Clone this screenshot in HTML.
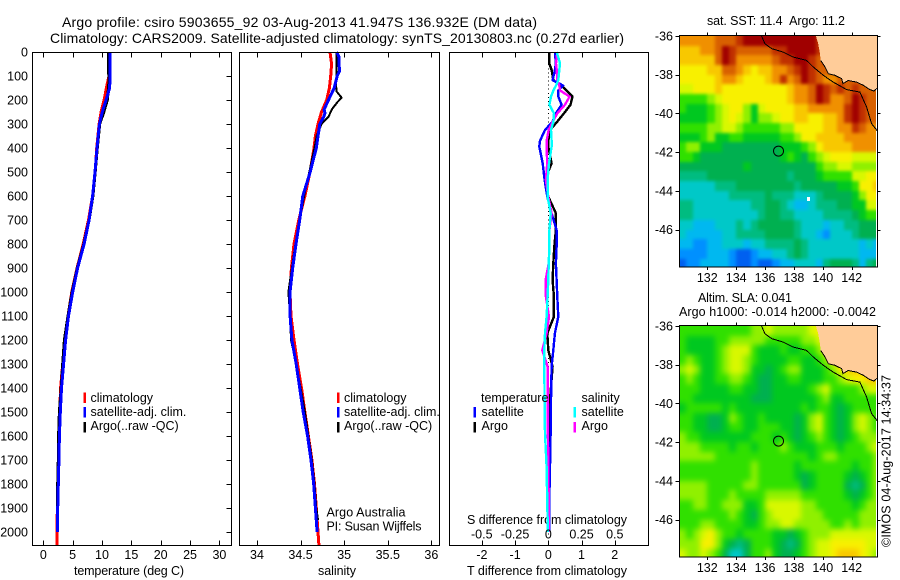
<!DOCTYPE html>
<html lang="en">
<head>
<meta charset="utf-8">
<title>Argo profile</title>
<style>
html,body{margin:0;padding:0;background:#fff;}
svg{display:block;}
text{font-family:"Liberation Sans",sans-serif;font-size:12.5px;fill:#000;}
</style>
</head>
<body>
<svg id="chart" width="900" height="580" viewBox="0 0 900 580" xmlns="http://www.w3.org/2000/svg">
  <defs>
    <filter id="blur-sst" x="-5%" y="-5%" width="110%" height="110%" color-interpolation-filters="sRGB"><feGaussianBlur stdDeviation="1.6"/></filter>
    <filter id="blur-sla" x="-5%" y="-5%" width="110%" height="110%" color-interpolation-filters="sRGB"><feGaussianBlur stdDeviation="3"/></filter>
  </defs>
  <rect width="900" height="580" fill="#fff"/>
  <text x="62" y="27" style="font-size:14px" textLength="475">Argo profile: csiro 5903655_92 03-Aug-2013 41.947S 136.932E (DM data)</text>
  <text x="50" y="43" style="font-size:14px" textLength="574">Climatology: CARS2009. Satellite-adjusted climatology: synTS_20130803.nc (0.27d earlier)</text>
  <text x="74" y="575" textLength="110">temperature (deg C)</text>
  <text x="318" y="575" textLength="38">salinity</text>
  <text x="467" y="575" textLength="160">T difference from climatology</text>
  <text x="467" y="524" textLength="160">S difference from climatology</text>
  <text x="326.5" y="516.5" textLength="79">Argo Australia</text>
  <text x="326.5" y="530.5" textLength="95">PI: Susan Wijffels</text>
  <text x="707" y="25" textLength="138">sat. SST: 11.4&#160;&#160;Argo: 11.2</text>
  <text x="698" y="302" textLength="94">Altim. SLA: 0.041</text>
  <text x="679" y="316" textLength="197">Argo h1000: -0.014 h2000: -0.0042</text>
  <text transform="translate(890.5,547) rotate(-90)" textLength="172">©IMOS 04-Aug-2017 14:34:37</text>
  <g id="layer"></g>
</svg>
<script>
// ---------- profile data ----------
const depthTicks = [0,100,200,300,400,500,600,700,800,900,1000,1100,1200,1300,1400,1500,1600,1700,1800,1900,2000];
const tempTicks = [0,5,10,15,20,25,30];
const salTicks = [34,34.5,35,35.5,36];
const salTickLabels = ["34","34.5","35","35.5","36"];
const tdiffTicks = [-2,-1,0,1,2];
const sdiffTicks = [-0.5,-0.25,0,0.25,0.5];
const sdiffTickLabels = ["-0.5","-0.25","0","0.25","0.5"];

const tempDepths = [0,50,100,120,150,200,250,300,400,500,600,700,800,900,1000,1100,1200,1300,1400,1500,1600,1700,1800,1900,2000];
const tempClim = [11.25,11.25,11.2,11.0,10.75,10.35,9.85,9.5,9.1,8.85,8.4,7.7,6.8,5.75,4.85,4.2,3.7,3.3,2.95,2.8,2.7,2.6,2.5,2.4,2.3];
const tempClimTailDepth = [1980,2054];
const tempClimTail = [2.3,2.3];
const tempArgo = [11.1,11.1,11.15,11.2,11.1,10.9,10.3,9.6,9.2,8.85,8.45,7.8,6.9,5.8,4.9,4.2,3.6,3.3,3.05,2.75,2.6,2.55,2.45,2.4,2.4];
const tempSat = [11.35,11.35,11.4,11.35,11.3,10.7,10.05,9.55,9.15,8.8,8.4,7.8,6.95,5.85,5.0,4.3,3.8,3.45,3.1,2.9,2.75,2.65,2.55,2.45,2.45];

const salClimDepths = [0,50,100,150,200,250,300,350,400,500,600,700,800,900,1000,1100,1200,1300,1400,1500,1600,1700,1800,1900,2000,2054];
const salClim = [34.837,34.856,34.845,34.83,34.8,34.74,34.70,34.67,34.654,34.608,34.55,34.48,34.424,34.395,34.378,34.39,34.424,34.465,34.51,34.55,34.59,34.63,34.66,34.68,34.70,34.71];
const salArgoDepths = [0,100,140,165,190,210,240,270,300,350,400,500,600,700,800,900,1000,1100,1200,1300,1400,1500,1600,1700,1800,1900,1950];
const salArgo = [34.914,34.914,34.906,34.914,34.97,34.92,34.857,34.82,34.74,34.685,34.66,34.6,34.54,34.49,34.44,34.40,34.36,34.38,34.39,34.45,34.5,34.55,34.59,34.63,34.66,34.68,34.7];
const salSatDepths = [0,20,80,100,150,200,240,255,270,300,400,500,600,700,800,900,1000,1100,1200,1300,1400,1500,1600,1700,1800,1900,2000];
const salSat = [34.914,34.94,34.945,34.92,34.886,34.82,34.77,34.78,34.765,34.72,34.68,34.61,34.525,34.49,34.447,34.41,34.378,34.38,34.40,34.45,34.49,34.53,34.58,34.62,34.65,34.67,34.69];

const diffDepths = [0,47,75,117,140,160,186,220,256,290,325,370,394,464,533,603,672,742,811,881,950,1019,1103,1172,1242,1311,1450,1589,1728,1867,2000];
const diffTempArgo = [.03,.03,.10,.15,.40,.55,.73,.67,.47,.27,.05,0,0,.10,-.10,0,.23,.23,.18,.15,.13,.17,.17,-.03,0,.13,.05,.05,.04,.03,.03];
const diffTempSat = [.20,.23,.20,.13,.45,.30,.30,.40,.23,.13,-.10,-.25,-.27,-.17,-.11,-.03,.10,.25,.25,.23,.25,.27,.30,.20,.15,.10,.08,.07,.05,.03,.03];
const diffSalArgo = [.068,.058,.063,.068,.083,.088,.16,.125,.068,.033,.003,-.013,-.013,-.008,-.018,0,.025,.008,.008,.003,-.02,-.018,.005,-.013,-.045,-.005,-.005,-.003,0,.003,.005];
const diffSalSat = [.063,.088,.083,.075,.058,.038,.02,.008,.043,.038,.02,.025,.025,.005,-.005,-.005,.018,.008,.008,.003,0,-.005,-.013,-.025,-.03,-.03,-.028,-.025,-.013,-.008,-.003];

// ---------- map data ----------
const lonTicks = [132,134,136,138,140,142];
const latTicks = [-36,-38,-40,-42,-44,-46];
const floatLon = 136.932;
const floatLat = -41.947;
const missingLon = [138.99];
const missingLat = [-44.4];
const levelColors = ["#0060f0","#0090ff","#00b8f0","#00c8c8","#00bc80","#00b050","#00c820","#30e000","#90f000","#d8f800","#f8f000","#f8c800","#f09000","#d86000","#c03000","#a00000"];
const landLon = [139.52,139.68,139.80,139.85,140.15,140.38,140.84,141.3,141.4,141.76,142.34,142.8,143.26,143.54,143.77];
const landLat = [-36,-36.4,-36.9,-37.26,-37.6,-37.95,-38.03,-38.2,-38.46,-38.3,-38.38,-38.55,-38.77,-38.84,-38.69];
const shelfLon = [135.76,135.99,136.45,137.26,137.95,138.88,139.34,140.03,140.72,141.65,142.57,143.03,143.38,143.77];
const shelfLat = [-36,-36.4,-36.65,-36.83,-37.09,-37.26,-37.6,-38.03,-38.38,-38.77,-38.9,-39.67,-40.53,-40.9];

const sstGrid = [
[12,12,12,12,12,13,13,13,14,15,15,15,15,15,15,15,15,15,15,14,14,14,14,14,14,14,14,14],
[11,11,11,12,12,13,15,14,13,13,13,13,13,14,14,15,15,15,15,14,14,14,14,14,14,14,14,14],
[11,11,11,11,11,13,15,14,12,12,12,12,12,13,14,14,15,15,14,13,14,14,14,14,14,14,14,14],
[10,10,10,10,11,11,13,13,12,11,10,11,11,12,12,13,14,15,14,13,13,13,13,13,13,13,13,13],
[10,10,10,10,10,11,12,12,11,10,10,10,11,12,14,12,13,15,14,13,12,12,13,13,13,13,13,13],
[9,9,10,10,10,11,10,10,10,10,10,10,10,10,10,11,12,12,13,15,14,13,14,13,14,13,13,13],
[7,7,7,7,8,9,10,10,10,10,10,10,10,10,10,11,12,12,13,15,14,12,12,13,15,14,13,13],
[7,6,6,6,7,8,9,10,10,8,6,9,10,10,10,10,11,11,12,12,12,12,12,14,15,14,13,13],
[6,6,6,6,7,8,9,10,9,8,6,8,8,9,10,10,11,11,10,10,11,11,12,14,15,14,13,13],
[7,7,7,7,8,8,9,9,8,7,7,7,7,7,8,8,10,10,10,10,11,11,12,12,14,13,12,12],
[6,6,6,7,8,6,6,7,7,6,6,6,6,6,7,7,8,10,10,11,11,11,11,12,12,12,12,12],
[7,8,8,6,6,6,5,5,5,5,5,5,5,5,6,6,6,7,8,10,11,11,11,11,12,12,12,12],
[7,7,6,5,5,5,5,5,5,5,5,5,5,5,6,7,6,5,7,8,9,10,10,10,9,9,9,9],
[5,5,5,5,5,5,5,5,5,6,5,5,5,5,5,5,5,5,5,7,8,8,9,9,8,8,8,8],
[4,4,4,4,5,5,5,5,5,5,5,5,5,5,5,4,5,5,5,6,7,7,7,7,9,9,10,10],
[3,3,3,3,3,4,4,4,5,5,5,5,5,5,5,5,4,5,5,5,5,5,6,6,7,10,10,11],
[3,3,3,3,3,3,3,4,4,4,4,4,5,4,4,4,3,3,3,4,5,5,5,5,6,8,10,10],
[4,4,3,3,3,3,3,3,3,3,4,4,5,5,4,3,2,2,3,4,4,4,5,5,6,6,9,9],
[4,4,3,3,3,3,3,3,3,3,3,4,5,5,4,4,3,3,3,3,4,4,4,4,5,6,7,7],
[3,3,2,2,2,3,3,3,4,3,4,5,5,5,5,5,4,3,3,3,2,3,3,4,4,5,5,5],
[3,2,2,2,2,2,3,3,4,4,4,4,5,5,5,5,4,3,3,2,1,3,3,3,4,5,5,5],
[2,2,1,1,2,2,3,3,3,2,3,3,4,4,4,4,5,4,3,3,3,3,3,3,3,2,3,2],
[1,1,1,1,2,2,2,1,0,0,1,2,2,3,3,4,5,4,3,3,3,3,3,3,3,2,2,2],
[0,1,1,2,2,2,2,1,0,0,1,0,0,1,2,2,3,3,3,2,4,5,5,5,4,2,4,5]
];
const slaGrid = [
[7,7,7,7,7,7,7,7,7,7,8,8,9,8,8,8,8,8,9,10,11,11,11,11,11,11,11,11],
[7,6,6,6,6,7,7,8,8,8,8,8,7,7,7,7,7,8,8,9,11,11,11,11,11,11,11,11],
[7,6,6,6,6,7,8,9,9,9,7,6,6,6,7,6,6,7,7,8,10,11,11,11,11,11,11,11],
[7,8,7,6,6,7,8,9,9,8,7,6,6,6,6,7,7,6,6,7,8,10,11,11,11,11,11,11],
[8,9,8,6,6,7,8,9,9,8,6,6,5,6,7,8,8,6,6,6,7,8,10,11,11,11,11,11],
[7,8,7,6,6,7,7,8,8,7,6,5,5,6,6,7,7,6,6,6,7,7,8,9,10,10,11,11],
[7,7,7,6,6,6,6,7,7,6,6,5,5,6,6,6,6,6,7,8,9,7,7,7,7,8,9,9],
[7,7,6,6,6,6,6,6,6,6,5,5,5,6,6,6,6,6,6,7,8,6,6,7,7,7,7,7],
[6,7,7,7,7,7,6,7,6,6,6,6,6,6,6,6,6,7,6,7,7,6,5,6,7,7,7,7],
[7,7,6,6,5,5,6,8,7,6,6,7,6,6,6,6,5,6,8,9,7,6,5,6,8,9,8,7],
[7,7,6,6,5,5,6,7,7,6,6,7,7,7,6,6,5,6,8,9,7,6,5,6,8,9,8,7],
[8,7,7,6,6,6,6,6,6,6,7,7,7,6,7,6,5,6,7,8,7,6,5,6,7,8,8,8],
[8,8,8,7,7,7,7,6,7,7,6,7,7,7,8,7,6,6,6,7,7,7,6,7,7,7,8,9],
[8,8,8,8,8,7,7,7,7,7,7,7,7,7,7,7,7,7,6,7,8,8,7,7,7,7,7,8],
[7,7,7,7,7,7,7,7,7,7,8,7,7,7,7,7,6,7,7,7,7,7,7,7,6,7,7,8],
[7,7,7,7,7,7,7,7,7,7,8,7,7,7,7,7,6,5,6,7,7,7,7,6,5,6,7,8],
[8,8,8,8,7,7,7,7,7,8,8,7,7,7,7,7,7,5,6,7,7,7,7,5,4,5,7,8],
[8,8,8,8,7,7,7,8,7,7,7,7,8,8,8,8,8,7,7,7,7,7,7,6,5,6,7,8],
[7,7,8,8,7,7,8,8,8,6,6,7,9,9,9,9,9,8,8,7,7,7,7,7,6,7,8,8],
[7,7,7,7,7,7,7,8,7,6,5,7,8,9,9,9,9,8,8,8,7,7,7,7,7,8,8,8],
[7,7,7,8,8,7,7,7,7,6,6,7,8,8,9,9,8,8,8,8,8,7,7,8,7,8,8,8],
[8,7,8,9,10,8,7,7,6,7,7,7,7,6,6,5,6,7,8,8,8,9,9,9,9,9,9,9],
[8,8,8,10,10,8,6,5,4,5,7,7,7,6,5,4,5,7,8,9,9,10,10,10,10,10,9,9],
[9,8,8,9,8,7,5,3,3,5,7,7,8,6,5,5,6,7,8,9,9,10,11,11,11,10,9,8]
];
const gridLonStart = 130;
const gridLatStart = -36;
const gridStep = 0.5;

// ---------- drawing ----------
const NS = "http://www.w3.org/2000/svg";
const layer = document.getElementById("layer");
function mk(tag, attrs, parent){
  const e = document.createElementNS(NS, tag);
  for (const k in attrs) e.setAttribute(k, attrs[k]);
  (parent || layer).appendChild(e);
  return e;
}
const yDepth = d => 52 + d * 0.24;
const xTemp = v => 43.3 + v * 5.87;
const xSal = v => 257 + (v - 34) * 87.17;
const xTd = v => 548.3 + v * 33.2;
const xSd = v => 548.3 + v * 133;

function drawProfile(name, xs, ds, xf, color, w){
  let pts = "";
  for (let i = 0; i < xs.length; i++) pts += xf(xs[i]).toFixed(1) + "," + yDepth(ds[i]).toFixed(1) + " ";
  const p = mk("polyline", {points: pts, fill: "none", stroke: color, "stroke-width": w, "shape-rendering": "crispEdges", "stroke-linejoin": "round"});
  
  
}
function drawFrame(name, x0, y0, x1, y1){
  const r = mk("rect", {x: x0, y: y0, width: x1 - x0, height: y1 - y0, fill: "none", stroke: "#000", "stroke-width": 1, "shape-rendering": "crispEdges"});
  
  
}
function tick(name, x1, y1, x2, y2){
  const l = mk("line", {x1: x1, y1: y1, x2: x2, y2: y2, stroke: "#000", "stroke-width": 1, "shape-rendering": "crispEdges"});
  
  
}
function label(name, str, x, y, anchor){
  const t = mk("text", {x: x, y: y, "text-anchor": anchor || "middle"});
  t.textContent = str;
  
  
}
function legendBar(name, x, y0, y1, color){
  const r = mk("rect", {x: x, y: y0, width: 2.5, height: y1 - y0, fill: color, "shape-rendering": "crispEdges"});
  
  
}

// panels
const P1 = [32.5, 231.5], P2 = [239.5, 439.5], P3 = [449.5, 648.5];
const topY = 52.5, botY = 545.5;

// zero line
for (let d = 0; d < 2054; d += 17) {
  const z = mk("rect", {x: xTd(0) - 0.5, y: yDepth(d), width: 1, height: 1, fill: "#000", "shape-rendering": "crispEdges"});
  
  
}

// series
drawProfile("temperature-climatology-line", tempClim, tempDepths, xTemp, "#ff0000", 3);
drawProfile("temperature-climatology-tail", tempClimTail, tempClimTailDepth, xTemp, "#ff0000", 3);
drawProfile("temperature-argo-line", tempArgo, tempDepths, xTemp, "#000000", 3);
drawProfile("temperature-satellite-line", tempSat, tempDepths, xTemp, "#0000ff", 3);
drawProfile("salinity-climatology-line", salClim, salClimDepths, xSal, "#ff0000", 3);
drawProfile("salinity-argo-line", salArgo, salArgoDepths, xSal, "#000000", 2);
drawProfile("salinity-satellite-line", salSat, salSatDepths, xSal, "#0000ff", 3);
drawProfile("t-difference-argo-line", diffTempArgo, diffDepths, xTd, "#000000", 2.4);
drawProfile("t-difference-satellite-line", diffTempSat, diffDepths, xTd, "#0000ff", 2.4);
drawProfile("s-difference-argo-line", diffSalArgo, diffDepths, xSd, "#ff00ff", 2.4);
drawProfile("s-difference-satellite-line", diffSalSat, diffDepths, xSd, "#00ffff", 2.4);

drawFrame("temperature-panel-frame", P1[0], topY, P1[1], botY);
drawFrame("salinity-panel-frame", P2[0], topY, P2[1], botY);
drawFrame("difference-panel-frame", P3[0], topY, P3[1], botY);

// depth axis
depthTicks.forEach(d => {
  const y = Math.round(yDepth(d)) + 0.5;
  tick("depth-tick", P1[1] - 5, y, P1[1], y);
  label("depth-tick-label", String(d), 28, yDepth(d) + 4.5, "end");
});
// temperature axis
tempTicks.forEach(v => {
  const x = Math.round(xTemp(v)) + 0.5;
  tick("temperature-top-tick", x, topY, x, topY + 5);
  tick("temperature-bottom-tick", x, botY - 5, x, botY);
  label("temperature-tick-label", String(v), xTemp(v), 559);
});
// salinity axis
salTicks.forEach((v, i) => {
  const x = Math.round(xSal(v)) + 0.5;
  tick("salinity-top-tick", x, topY, x, topY + 5);
  tick("salinity-bottom-tick", x, botY - 5, x, botY);
  label("salinity-tick-label", salTickLabels[i], xSal(v), 559);
});
// difference axes
tdiffTicks.forEach(v => {
  const x = Math.round(xTd(v)) + 0.5;
  tick("t-difference-top-tick", x, topY, x, topY + 5);
  tick("t-difference-bottom-tick", x, botY - 5, x, botY);
  label("t-difference-tick-label", String(v), xTd(v), 559);
});
sdiffTicks.forEach((v, i) => {
  label("s-difference-tick-label", sdiffTickLabels[i], xSd(v), 538.5);
});

// legends
const legendNames = ["climatology", "satellite-adj. clim.", "Argo(..raw -QC)"];
const legendColors = ["#ff0000", "#0000ff", "#000000"];
const legendTops = [392.5, 407, 422];
const legendBases = [402, 416, 430];
[83.5, 337].forEach(x => {
  legendNames.forEach((n, i) => {
    legendBar("profile-legend-swatch", x, legendTops[i], legendTops[i] + 10.5, legendColors[i]);
    label("profile-legend-label", n, x + 7, legendBases[i], "start");
  });
});
label("difference-legend-temperature-heading", "temperature", 481, 402, "start");
label("difference-legend-salinity-heading", "salinity", 581.5, 402, "start");
const diffLegendNames = ["satellite", "Argo"];
const diffLegendT = ["#0000ff", "#000000"];
const diffLegendS = ["#00ffff", "#ff00ff"];
diffLegendNames.forEach((n, i) => {
  legendBar("t-difference-legend-swatch", 473.5, legendTops[i + 1], legendTops[i + 1] + 10.5, diffLegendT[i]);
  label("t-difference-legend-label", n, 481.5, legendBases[i + 1], "start");
  legendBar("s-difference-legend-swatch", 573.5, legendTops[i + 1], legendTops[i + 1] + 10.5, diffLegendS[i]);
  label("s-difference-legend-label", n, 581.5, legendBases[i + 1], "start");
});

// maps
function drawMap(prefix, grid, top, clipId, blurId){
  const left = 679.5, right = 877.5, bottom = top + 231.5;
  const xLon = v => 707.3 + (v - 132) * 14.44;
  const yLat = v => (top + 0.5) + (-36 - v) * 19.35;
  const clip = mk("clipPath", {id: clipId});
  mk("rect", {x: left, y: top, width: 196.5, height: bottom - top}, clip);
  const clipped = mk("g", {"clip-path": "url(#" + clipId + ")"});
  
  
  const g = mk("g", {filter: "url(#" + blurId + ")"}, clipped);
  
  
  grid.forEach((row, r) => {
    row.forEach((lev, c) => {
      const lonA = gridLonStart + c * gridStep, latA = gridLatStart - r * gridStep;
      let x0 = Math.round(xLon(lonA)), x1 = Math.round(xLon(lonA + gridStep));
      let y0 = Math.round(yLat(latA)), y1 = Math.round(yLat(latA - gridStep));
      if (c === 0) x0 -= 12;
      if (c === row.length - 1) x1 += 12;
      if (r === 0) y0 -= 12;
      if (r === grid.length - 1) y1 += 12;
      const cell = mk("rect", {x: x0, y: y0, width: x1 - x0, height: y1 - y0, fill: levelColors[lev], "shape-rendering": "crispEdges"}, g);
      
      
    });
  });
  // land
  let landPts = "";
  landLon.forEach((v, i) => { landPts += xLon(v).toFixed(1) + "," + yLat(landLat[i]).toFixed(1) + " "; });
  const land = mk("polygon", {points: landPts + right + "," + top, fill: "#ffcc99", "shape-rendering": "crispEdges"});
  
  
  let coastPts = "";
  landLon.forEach((v, i) => { if (i >= 3) coastPts += xLon(v).toFixed(1) + "," + yLat(landLat[i]).toFixed(1) + " "; });
  const coast = mk("polyline", {points: coastPts, fill: "none", stroke: "#000", "stroke-width": 1, "shape-rendering": "crispEdges"});
  
  
  let shelfPts = "";
  shelfLon.forEach((v, i) => { shelfPts += xLon(v).toFixed(1) + "," + yLat(shelfLat[i]).toFixed(1) + " "; });
  const shelf = mk("polyline", {points: shelfPts, fill: "none", stroke: "#000", "stroke-width": 1, "shape-rendering": "crispEdges"});
  
  
  const marker = mk("circle", {cx: xLon(floatLon), cy: yLat(floatLat), r: 5, fill: "none", stroke: "#000", "stroke-width": 1});
  
  
  drawFrame(prefix + '-frame', left, top, right, bottom);
  lonTicks.forEach(v => {
    const x = Math.round(xLon(v)) + 0.5;
    tick(prefix + '-lon-top-tick', x, top - 3, x, top);
    tick(prefix + '-lon-bottom-tick', x, bottom, x, bottom + 3);
    label(prefix + '-lon-tick-label', String(v), xLon(v), bottom + 15);
  });
  latTicks.forEach(v => {
    const y = Math.round(yLat(v)) + 0.5;
    tick(prefix + '-lat-left-tick', left - 4, y, left, y);
    tick(prefix + '-lat-right-tick', right, y, right + 3, y);
    label(prefix + '-lat-tick-label', String(v), 673, yLat(v) + 4.5, "end");
  });
  return {xLon, yLat};
}
const m1 = drawMap("sst-map", sstGrid, 35.5, "clip-sst", "blur-sst");
drawMap("sla-map", slaGrid, 325.5, "clip-sla", "blur-sla");
missingLon.forEach((v, i) => {
  const w = mk("rect", {x: Math.round(m1.xLon(v)) - 1, y: Math.round(m1.yLat(missingLat[i])) - 2, width: 3, height: 4, fill: "#fff", "shape-rendering": "crispEdges"});
  
  
});
</script>
</body>
</html>
